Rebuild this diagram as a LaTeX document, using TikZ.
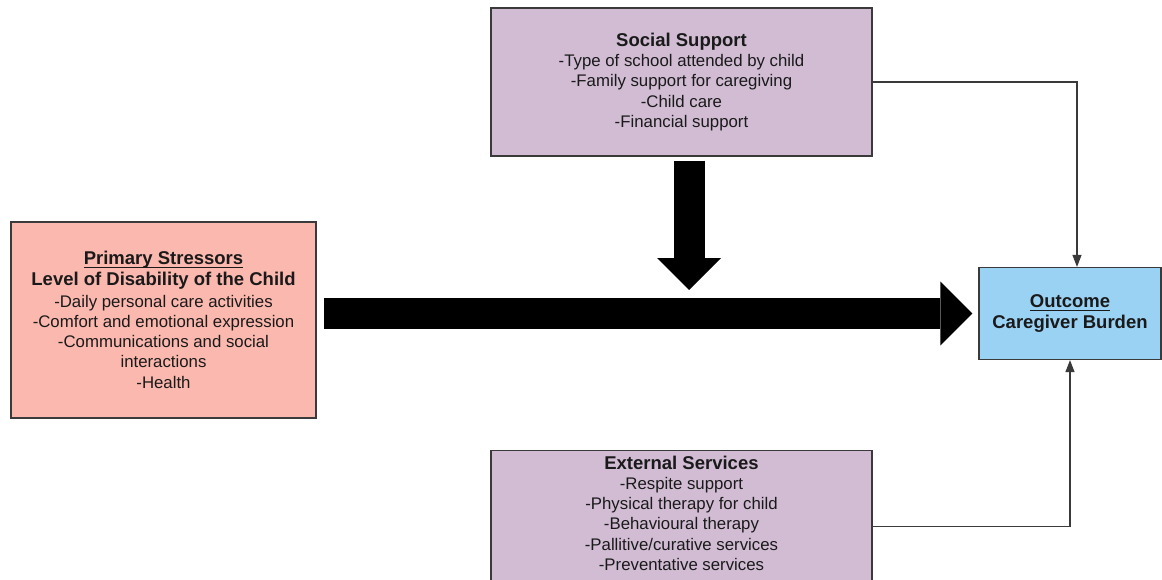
\documentclass[tikz,border=0pt]{standalone}
\usepackage{amsmath}
\usepackage{fontspec}
\setmainfont{Liberation Sans}
\usetikzlibrary{arrows.meta,positioning,calc}
\definecolor{strs}{HTML}{FBB8AE}
\definecolor{supp}{HTML}{D1BCD4}
\definecolor{outc}{HTML}{9AD2F3}
\definecolor{edg}{HTML}{3A3A3A}
\definecolor{txt}{HTML}{1A1A1A}
\newcommand{\ttl}{\fontsize{18.5}{20.3}\selectfont\bfseries}
\newcommand{\ul}[1]{\underline{\smash[b]{#1}}}
\tikzset{
  box/.style={draw=edg,line width=1.2pt,align=center,inner sep=4pt,text=txt,font=\fontsize{16.8}{20.3}\selectfont},
  sbox/.style={box,fill=strs},
  ubox/.style={box,fill=supp},
  obox/.style={box,fill=outc},
  ar/.style={-{Triangle[length=12pt,width=9pt]},line width=1.1pt,draw=edg},
  bigar/.style={-{Triangle[length=32pt,width=64pt,line width=0pt]},line width=31pt,draw=black},
}

\begin{document}
\begin{tikzpicture}[x=1pt,y=-1pt]
\path[use as bounding box,fill=white] (0,0) rectangle (1162,580);
% boxes
\node[sbox,minimum width=305pt,minimum height=196pt] (pri) at (163.5,320) {{\ttl\ul{Primary Stressors}}\\{\ttl Level of Disability of the Child}\\[1.5pt]-Daily personal care activities\\-Comfort and emotional expression\\-Communications and social\\interactions\\-Health};
\node[ubox,minimum width=381pt,minimum height=148pt] (soc) at (681.5,82) {{\ttl Social Support}\\-Type of school attended by child\\-Family support for caregiving\\-Child care\\-Financial support};
\node[ubox,anchor=north,inner sep=0pt] (ext) at (681.5,450) {\parbox[t][152pt][t]{381pt}{\centering\vspace*{5pt}{\ttl External Services}\\-Respite support\\-Physical therapy for child\\-Behavioural therapy\\-Pallitive/curative services\\-Preventative services}};
\node[obox,minimum width=182pt,minimum height=92pt] (out) at (1070,313.5) {{\ttl\ul{Outcome}}\\{\ttl Caregiver Burden}};
% big arrows
\coordinate (jn) at (689,297);
\draw[bigar,shorten <=7pt,shorten >=6pt] (pri.east |- out.west) -- (out.west);
\draw[bigar,shorten <=4pt,shorten >=7pt] (soc.south -| jn) -- (jn);
% thin links
\draw[ar] (soc.east) -| ([xshift=7pt]out.north);
\draw[ar] (ext.east) -| (out.south);
\end{tikzpicture}
\end{document}
